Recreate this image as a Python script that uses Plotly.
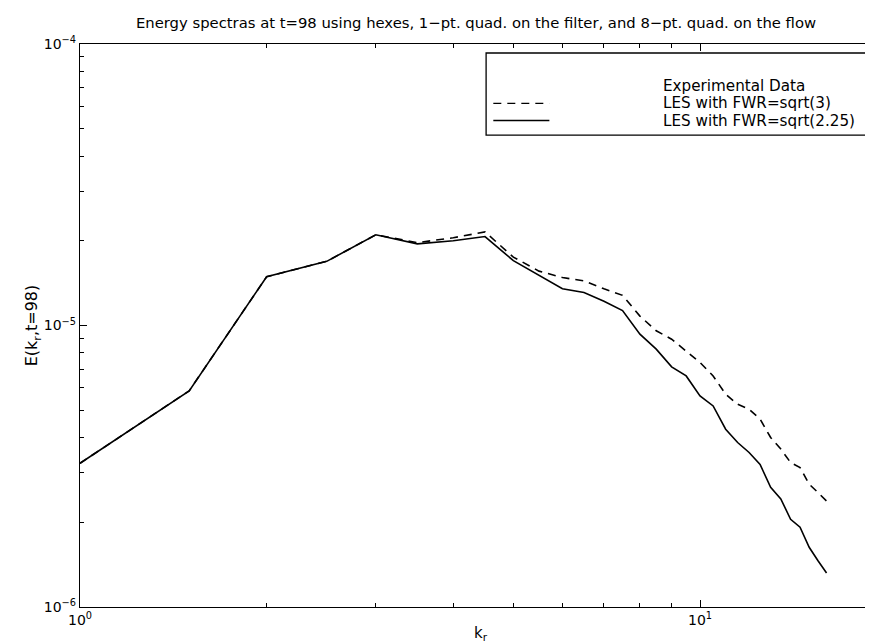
import numpy as np
import plotly.graph_objects as go

# wavenumbers k_r
k = [1, 1.5, 2, 2.5, 3, 3.5, 4, 4.5, 5, 5.5, 6, 6.5, 7, 7.5, 8, 8.5, 9, 9.5,
     10, 10.5, 11, 11.5, 12, 12.5, 13, 13.5, 14, 14.5, 15, 15.5, 16]

# LES with FWR=sqrt(3)  (dashed)
E_sqrt3 = [3.24e-6, 5.86e-6, 1.49e-5, 1.69e-5, 2.10e-5, 1.97e-5, 2.05e-5, 2.15e-5,
           1.75e-5, 1.56e-5, 1.48e-5, 1.44e-5, 1.35e-5, 1.28e-5, 1.08e-5, 9.58e-6,
           8.94e-6, 8.12e-6, 7.39e-6, 6.62e-6, 5.70e-6, 5.25e-6, 5.04e-6, 4.65e-6,
           4.00e-6, 3.64e-6, 3.26e-6, 3.13e-6, 2.73e-6, 2.55e-6, 2.38e-6]

# LES with FWR=sqrt(2.25)  (solid)
E_sqrt225 = [3.24e-6, 5.86e-6, 1.49e-5, 1.69e-5, 2.10e-5, 1.95e-5, 2.00e-5, 2.07e-5,
             1.70e-5, 1.51e-5, 1.35e-5, 1.31e-5, 1.22e-5, 1.13e-5, 9.32e-6, 8.24e-6,
             7.13e-6, 6.62e-6, 5.62e-6, 5.18e-6, 4.28e-6, 3.84e-6, 3.54e-6, 3.21e-6,
             2.66e-6, 2.42e-6, 2.05e-6, 1.92e-6, 1.63e-6, 1.46e-6, 1.32e-6]

legend_labels = ["Experimental Data", "LES with FWR=sqrt(3)", "LES with FWR=sqrt(2.25)"]
title_text = "Energy spectras at t=98 using hexes, 1\u2212pt. quad. on the filter, and 8\u2212pt. quad. on the flow"

x_major = [1, 10]
x_major_text = ["10<sup>0</sup>", "10<sup>1</sup>"]
x_minor = [2, 3, 4, 5, 6, 7, 8, 9, 20]
y_major = [1e-6, 1e-5, 1e-4]
y_major_text = ["10<sup>\u22126</sup>", "10<sup>\u22125</sup>", "10<sup>\u22124</sup>"]
y_minor = [m * 1e-6 for m in range(2, 10)] + [m * 1e-5 for m in range(2, 10)]

FONT = "DejaVu Sans, Liberation Sans, Arial, sans-serif"
DASH = "8px,6px"

fig = go.Figure()
fig.add_trace(go.Scatter(x=k, y=E_sqrt3, mode="lines", name=legend_labels[1],
                         line=dict(color="black", width=1.6, dash=DASH),
                         showlegend=False))
fig.add_trace(go.Scatter(x=k, y=E_sqrt225, mode="lines", name=legend_labels[2],
                         line=dict(color="black", width=1.6),
                         showlegend=False))

# legend box (manual, MATLAB style)
bx0, bx1, by0, by1 = 0.507, 0.9825, 0.838, 0.984
fig.add_shape(type="rect", xref="paper", yref="paper", x0=bx0, x1=bx1, y0=by0, y1=by1,
              line=dict(color="black", width=1.3), fillcolor="white", layer="above")
rows = [0.925, 0.8945, 0.864]
styles = [None, DASH, "solid"]
for lab, yy, st in zip(legend_labels, rows, styles):
    if st is not None:
        fig.add_shape(type="line", xref="paper", yref="paper", x0=0.516, x1=0.586,
                      y0=yy, y1=yy, line=dict(color="black", width=1.4, dash=st),
                      layer="above")
    fig.add_annotation(xref="paper", yref="paper", x=0.726, y=yy, text=lab,
                       showarrow=False, xanchor="left", yanchor="middle",
                       font=dict(family=FONT, size=15.2, color="black"),
                       height=16, valign="middle", borderpad=0)

xmax_log = (873 - 72) / 620.0

fig.update_layout(
    width=873, height=644,
    margin=dict(l=72, r=0, t=36, b=45),
    paper_bgcolor="white", plot_bgcolor="white",
    font=dict(family=FONT, color="black", size=14),
    title=dict(text=title_text, x=468 / 873, xanchor="center",
               y=1 - 15 / 644, yanchor="middle",
               font=dict(family=FONT, size=14.8, color="black")),
    showlegend=False,
    xaxis=dict(type="log", range=[0, xmax_log], showgrid=False, zeroline=False,
               showline=True, linecolor="black", linewidth=1.4, mirror="ticks",
               ticks="inside", ticklen=7, tickwidth=1.3, tickcolor="black",
               tickvals=x_major, ticktext=x_major_text,
               tickfont=dict(family=FONT, size=14),
               minor=dict(tickvals=x_minor, ticks="inside", ticklen=4, tickwidth=1,
                          tickcolor="black", showgrid=False),
               title=dict(text="k<sub>r</sub>", font=dict(family=FONT, size=15),
                          standoff=0)),
    yaxis=dict(type="log", range=[-6, -4], showgrid=False, zeroline=False,
               showline=True, linecolor="black", linewidth=1.4, mirror=False,
               ticks="inside", ticklen=7, tickwidth=1.3, tickcolor="black",
               tickvals=y_major, ticktext=y_major_text,
               tickfont=dict(family=FONT, size=14),
               minor=dict(tickvals=y_minor, ticks="inside", ticklen=4, tickwidth=1,
                          tickcolor="black", showgrid=False),
               title=dict(text="E(k<sub>r</sub>,t=98)", font=dict(family=FONT, size=16),
                          standoff=1)),
)

fig.write_html("out.html")
